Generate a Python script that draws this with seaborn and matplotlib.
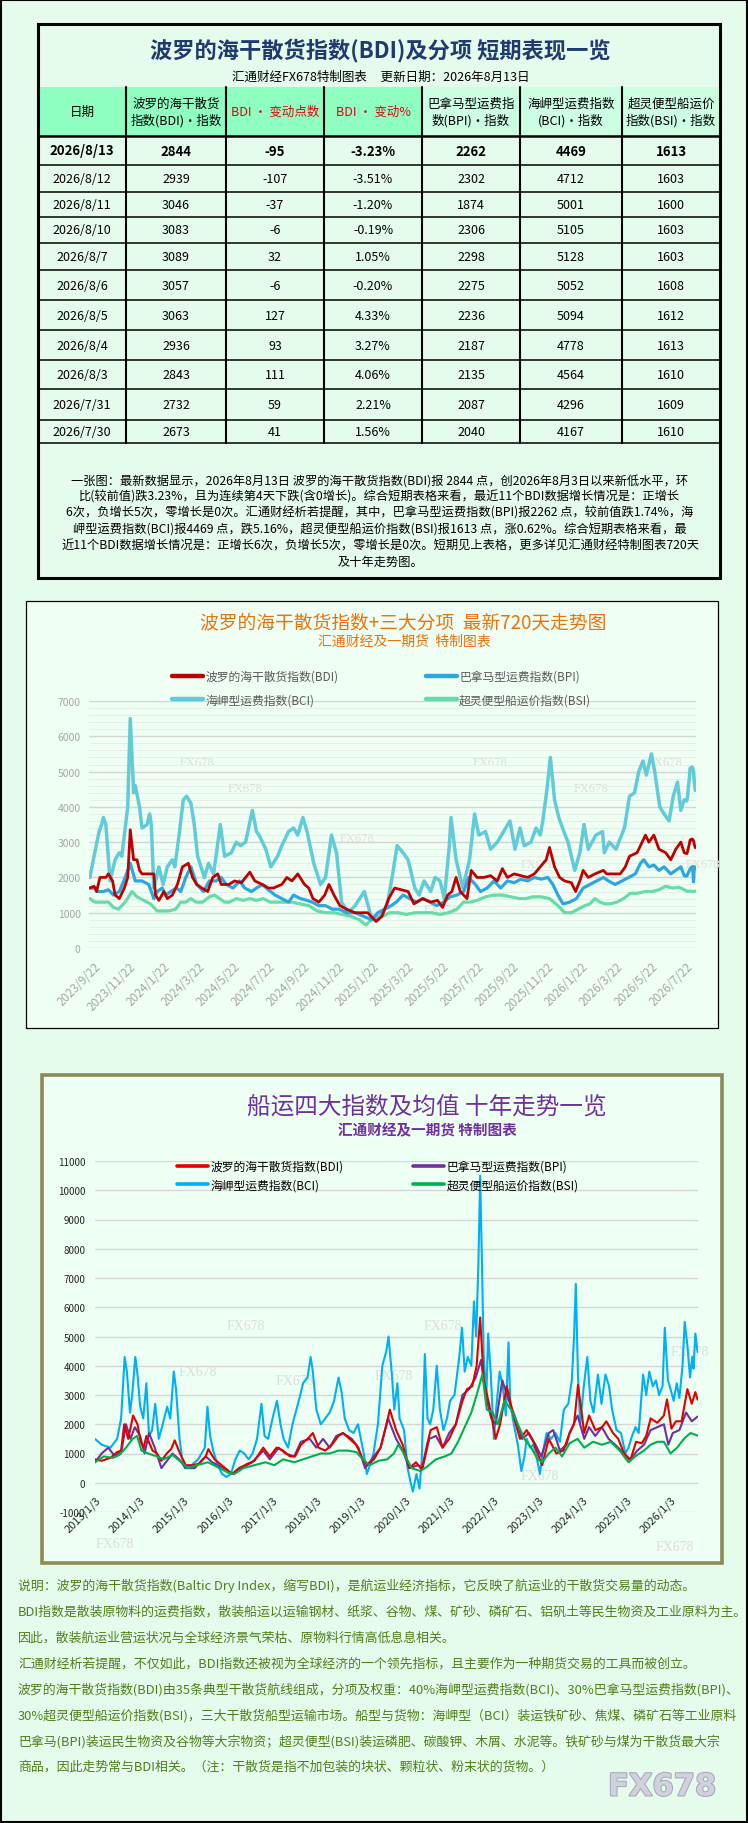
import numpy as np
import pandas as pd
import matplotlib
matplotlib.use("Agg")
import matplotlib.pyplot as plt
import seaborn as sns
from matplotlib.patches import Rectangle
from matplotlib.lines import Line2D
from matplotlib.ticker import MultipleLocator
import matplotlib.patheffects as pe

# ---------------- table data ----------------
dates = ["2026/8/13", "2026/8/12", "2026/8/11", "2026/8/10", "2026/8/7", "2026/8/6",
         "2026/8/5", "2026/8/4", "2026/8/3", "2026/7/31", "2026/7/30"]
bdi = [2844, 2939, 3046, 3083, 3089, 3057, 3063, 2936, 2843, 2732, 2673]
bdi_chg = [-95, -107, -37, -6, 32, -6, 127, 93, 111, 59, 41]
bdi_pct = ["-3.23%", "-3.51%", "-1.20%", "-0.19%", "1.05%", "-0.20%", "4.33%", "3.27%",
           "4.06%", "2.21%", "1.56%"]
bpi = [2262, 2302, 1874, 2306, 2298, 2275, 2236, 2187, 2135, 2087, 2040]
bci = [4469, 4712, 5001, 5105, 5128, 5052, 5094, 4778, 4564, 4296, 4167]
bsi = [1613, 1603, 1600, 1603, 1603, 1608, 1612, 1613, 1610, 1609, 1610]

headers = ["日期", "波罗的海干散货\n指数(BDI)·指数", "BDI · 变动点数", "BDI · 变动%",
           "巴拿马型运费指\n数(BPI)·指数", "海岬型运费指数\n(BCI)·指数", "超灵便型船运价\n指数(BSI)·指数"]

# ---------------- 720-day chart (trading-day index, value) ----------------
bdi720 = [(0,1700),(5,1750),(8,1600),(12,2000),(19,2000),(22,2100),(27,1900),(30,1500),(35,1400),
          (41,1700),(45,2000),(48,3350),(52,2500),(56,2500),(59,2200),(62,2100),(70,2100),(76,2100),
          (78,1500),(82,1350),(88,1600),(92,1400),(98,1500),(104,1800),(110,2300),(117,2400),
          (122,2000),(127,1800),(133,1700),(140,1600),(146,2000),(152,2100),(156,1800),(165,1800),
          (172,1900),(180,1850),(190,2150),(196,1900),(205,1800),(212,1700),(218,1700),(228,1800),
          (234,2000),(240,1900),(247,2100),(255,1800),(260,1700),(265,1400),(272,1300),(279,1500),
          (284,1800),(290,1500),(297,1200),(305,1100),(315,1000),(330,1000),(340,750),(347,900),
          (355,1400),(362,1700),(370,1650),(378,1600),(385,1250),(395,1400),(405,1300),(413,1350),
          (419,1150),(425,1500),(430,1600),(435,2000),(440,1600),(448,1400),(453,2200),(460,2000),
          (468,2000),(476,2050),(484,1900),(490,2250),(496,2000),(504,2100),(512,2050),(520,2000),
          (528,2100),(535,2300),(542,2500),(546,2850),(552,2300),(558,2000),(564,1900),(572,1850),
          (577,1600),(582,1900),(586,2200),(592,2000),(600,2100),(610,2200),(614,2100),(620,2100),
          (630,2100),(636,2300),(641,2600),(650,2700),(656,3000),(660,3200),(664,3000),(670,3200),
          (676,2800),(684,2700),(690,2500),(696,2800),(702,3000),(706,2700)]
bci720 = [(0,2000),(5,2600),(11,3300),(14,3500),(16,3700),(19,3500),(24,1900),(30,2500),(35,2700),
          (38,2600),(45,4000),(48,6500),(52,4400),(54,4600),(59,4000),(62,3400),(68,3500),(71,3800),
          (73,3500),(76,1700),(82,2300),(87,1800),(92,2300),(98,2500),(101,2300),(106,3200),
          (111,4200),(115,4300),(120,4100),(124,3500),(128,2600),(136,2000),(141,2400),(147,2100),
          (155,3500),(160,2600),(168,2700),(174,3000),(179,2900),(185,3000),(193,3900),(198,3300),
          (201,3200),(209,2800),(215,2300),(223,2600),(228,2900),(236,3300),(242,3400),(247,3200),
          (253,3700),(258,3300),(266,2400),(274,1800),(280,2000),(287,3200),(293,2700),(299,1300),
          (307,1000),(315,1200),(326,1600),(334,900),(342,800),(353,1200),(359,2000),(365,2900),
          (372,2700),(378,2500),(386,1700),(391,1500),(397,1900),(405,1600),(410,2000),(416,1900),
          (421,1400),(427,2900),(429,3700),(435,2500),(443,1700),(451,2500),(457,3800),(462,3200),
          (470,3300),(476,2800),(484,3000),(489,3200),(499,3600),(505,2800),(511,3400),(516,2900),
          (524,3000),(530,3400),(535,3200),(538,3600),(543,4500),(547,5400),(552,4200),(557,3700),
          (563,3300),(568,3000),(576,2200),(582,2700),(587,3500),(592,2800),(601,3200),(609,3300),
          (611,2700),(617,3000),(625,2800),(630,3100),(635,3400),(641,4300),(647,4400),(652,5000),
          (657,5300),(661,4900),(667,5500),(671,5000),(677,4000),(682,3800),(688,3600),(693,4300),
          (698,4700),(702,3900),(706,4200)]
bpi720 = [(0,1700),(6,1700),(10,1600),(16,1600),(22,1650),(28,1500),(35,1600),(42,2000),(48,2400),
          (54,1900),(62,1900),(70,1800),(76,1400),(80,1600),(86,1700),(90,1500),(96,1600),(103,1700),
          (108,1600),(114,2000),(120,2300),(127,1800),(135,1600),(142,1900),(150,1900),(156,2000),
          (162,1800),(170,1700),(178,1900),(184,1700),(192,1600),(198,1700),(205,1800),(212,1650),
          (220,1500),(228,1400),(236,1300),(242,1500),(250,1400),(258,1350),(264,1300),(272,1200),
          (280,1200),(288,1100),(296,1100),(305,1000),(315,1000),(325,900),(335,800),(342,1000),
          (350,1100),(358,1200),(364,1300),(372,1500),(380,1400),(388,1300),(396,1400),(404,1300),
          (412,1200),(420,1300),(428,1450),(436,1500),(444,1600),(450,2000),(458,1800),(464,1600),
          (472,1700),(480,1900),(488,1700),(496,1900),(504,1850),(512,1950),(520,1900),(528,2000),
          (536,1950),(544,2000),(550,1800),(556,1500),(562,1250),(570,1300),(578,1400),(586,1700),
          (594,1800),(602,1900),(610,2000),(616,1900),(624,1800),(632,1900),(640,2000),(648,2100),
          (654,2400),(658,2500),(664,2300),(670,2350),(676,2200),(682,2300),(690,2100),(696,2200),
          (702,2300),(706,2050)]
bsi720 = [(0,1400),(6,1300),(14,1300),(22,1300),(28,1150),(34,1100),(42,1300),(50,1600),(56,1450),
          (64,1350),(72,1250),(80,1050),(86,1050),(94,1050),(102,1100),(108,1300),(114,1300),
          (120,1400),(126,1300),(134,1300),(142,1450),(148,1500),(154,1400),(160,1300),(166,1300),
          (174,1400),(182,1350),(190,1400),(198,1350),(206,1400),(214,1300),(222,1300),(230,1300),
          (240,1300),(250,1250),(260,1200),(270,1050),(280,1000),(290,1000),(300,950),(310,900),
          (320,800),(328,650),(334,800),(340,900),(348,900),(356,1000),(366,1000),(376,950),
          (386,1000),(396,1000),(406,1000),(416,950),(426,1000),(436,1100),(444,1300),(452,1300),
          (460,1350),(470,1450),(480,1500),(490,1500),(500,1450),(510,1400),(518,1400),(526,1450),
          (536,1450),(546,1400),(556,1200),(564,1000),(572,1000),(580,1100),(588,1200),(594,1250),
          (600,1400),(606,1300),(612,1250),(618,1250),(626,1300),(634,1400),(642,1550),(650,1550),
          (660,1600),(668,1600),(676,1650),(684,1750),(692,1700),(700,1720),(706,1650)]
x720_labels = ["2023/9/22", "2023/11/22", "2024/1/22", "2024/3/22", "2024/5/22", "2024/7/22",
               "2024/9/22", "2024/11/22", "2025/1/22", "2025/3/22", "2025/5/22", "2025/7/22",
               "2025/9/22", "2025/11/22", "2026/1/22", "2026/3/22", "2026/5/22", "2026/7/22"]

# ---------------- ten-year chart (decimal year, value) ----------------
bci10 = [(2013.00,1500),(2013.15,1300),(2013.35,1200),(2013.50,1500),(2013.59,2200),(2013.67,4300),
         (2013.72,3800),(2013.79,2400),(2013.84,3000),(2013.91,4300),(2013.96,3700),(2014.02,2600),
         (2014.09,2200),(2014.16,3400),(2014.22,1600),(2014.29,1800),(2014.36,2700),(2014.44,1500),
         (2014.53,2000),(2014.63,2600),(2014.70,2200),(2014.78,3800),(2014.83,3200),(2014.91,1500),
         (2014.98,700),(2015.03,500),(2015.18,600),(2015.33,800),(2015.48,1200),(2015.54,2600),
         (2015.60,1600),(2015.67,1100),(2015.77,600),(2015.87,300),(2015.97,200),(2016.07,300),
         (2016.17,800),(2016.27,1100),(2016.37,1000),(2016.47,800),(2016.56,1000),(2016.66,1500),
         (2016.76,2700),(2016.83,1600),(2016.91,1500),(2017.01,2200),(2017.11,2800),(2017.19,2000),
         (2017.26,1500),(2017.36,1200),(2017.46,2000),(2017.55,2500),(2017.62,2900),(2017.70,3400),
         (2017.80,3600),(2017.87,4300),(2017.92,3800),(2018.00,2500),(2018.10,2000),(2018.20,2200),
         (2018.30,2400),(2018.40,2800),(2018.50,3600),(2018.57,3100),(2018.64,2200),(2018.74,1800),
         (2018.84,1700),(2018.94,2000),(2019.07,1000),(2019.14,300),(2019.21,600),(2019.29,1000),
         (2019.39,2000),(2019.49,4000),(2019.58,4500),(2019.63,5000),(2019.70,3800),(2019.76,2500),
         (2019.83,3400),(2019.88,2200),(2019.98,1800),(2020.06,500),(2020.13,0),(2020.18,-300),
         (2020.26,300),(2020.33,-200),(2020.38,800),(2020.45,4400),(2020.51,2200),(2020.57,2000),
         (2020.64,2500),(2020.72,4000),(2020.79,2500),(2020.87,1800),(2020.95,2200),(2021.02,2800),
         (2021.12,3000),(2021.22,4200),(2021.29,5300),(2021.35,3800),(2021.42,4300),(2021.50,4000),
         (2021.56,6200),(2021.61,5000),(2021.66,7500),(2021.70,10500),(2021.74,7500),(2021.78,4300),
         (2021.84,3000),(2021.88,5100),(2021.94,3700),(2022.01,1500),(2022.06,2500),(2022.14,3800),
         (2022.21,3300),(2022.28,2300),(2022.34,4800),(2022.38,2700),(2022.46,2000),(2022.55,1300),
         (2022.63,400),(2022.70,900),(2022.75,1500),(2022.83,1200),(2022.90,1300),(2022.97,900),
         (2023.05,300),(2023.10,900),(2023.20,1700),(2023.30,1500),(2023.40,1700),(2023.50,1400),
         (2023.59,2500),(2023.69,2700),(2023.77,3500),(2023.82,5000),(2023.86,6800),(2023.91,3600),
         (2023.96,2000),(2024.04,3300),(2024.12,4300),(2024.19,2800),(2024.26,2400),(2024.36,3700),
         (2024.44,2700),(2024.53,3700),(2024.61,3300),(2024.68,2500),(2024.78,1800),(2024.88,1700),
         (2024.98,1000),(2025.05,1200),(2025.13,1600),(2025.21,1900),(2025.28,1700),(2025.38,3700),
         (2025.45,3000),(2025.52,3800),(2025.60,3300),(2025.67,3500),(2025.74,3000),(2025.82,3300),
         (2025.87,5300),(2025.94,3500),(2026.00,3200),(2026.07,2800),(2026.14,3400),(2026.20,2900),
         (2026.27,4000),(2026.32,5500),(2026.38,4700),(2026.44,3600),(2026.49,4300),(2026.52,3900),
         (2026.56,5100),(2026.61,4469)]
bdi10 = [(2013.00,800),(2013.15,750),(2013.35,850),(2013.50,1050),(2013.59,1100),(2013.66,2000),
         (2013.75,1500),(2013.86,2300),(2013.96,2000),(2014.03,1400),(2014.10,1200),(2014.16,1600),
         (2014.30,1100),(2014.40,1000),(2014.50,750),(2014.62,1000),(2014.72,1150),(2014.80,1450),
         (2014.92,1000),(2015.05,600),(2015.20,600),(2015.35,650),(2015.50,900),(2015.56,1150),
         (2015.70,800),(2015.90,550),(2016.10,300),(2016.25,500),(2016.45,650),(2016.60,750),
         (2016.80,1200),(2016.95,900),(2017.10,1200),(2017.25,1100),(2017.40,900),(2017.52,900),
         (2017.65,1300),(2017.80,1500),(2017.92,1700),(2018.05,1200),(2018.20,1100),(2018.35,1300),
         (2018.50,1600),(2018.60,1700),(2018.75,1500),(2018.90,1300),(2019.05,800),(2019.15,600),
         (2019.30,800),(2019.45,1200),(2019.55,1800),(2019.66,2500),(2019.80,1800),(2019.95,1300),
         (2020.10,500),(2020.25,700),(2020.38,450),(2020.50,1300),(2020.58,1800),(2020.72,1900),
         (2020.85,1200),(2021.00,1500),(2021.15,2000),(2021.30,2800),(2021.40,3200),(2021.52,3300),
         (2021.62,4000),(2021.70,5650),(2021.78,3500),(2021.90,2700),(2022.05,1500),(2022.15,2000),
         (2022.30,3300),(2022.45,2300),(2022.60,1500),(2022.75,1800),(2022.90,1400),(2023.10,600),
         (2023.25,1500),(2023.42,1000),(2023.58,1100),(2023.72,1700),(2023.82,2000),(2023.91,3350),
         (2024.05,1700),(2024.16,2300),(2024.30,1800),(2024.45,1900),(2024.55,2100),(2024.70,1700),
         (2024.82,1500),(2024.95,1000),(2025.09,750),(2025.22,1400),(2025.35,1350),(2025.45,1600),
         (2025.55,2200),(2025.70,2050),(2025.85,2300),(2025.92,2850),(2026.02,1850),(2026.12,2100),
         (2026.25,2100),(2026.38,3200),(2026.48,2700),(2026.56,3100),(2026.61,2844)]
bpi10 = [(2013.00,700),(2013.15,1000),(2013.30,1200),(2013.45,900),(2013.60,1100),(2013.70,2000),
         (2013.80,1500),(2013.90,1900),(2014.02,1600),(2014.12,1000),(2014.22,1700),(2014.35,1200),
         (2014.50,500),(2014.60,700),(2014.75,1000),(2014.90,800),(2015.05,500),(2015.25,500),
         (2015.50,900),(2015.65,700),(2015.90,500),(2016.10,300),(2016.30,500),(2016.55,700),
         (2016.80,1100),(2016.95,800),(2017.15,1200),(2017.30,1000),(2017.50,900),(2017.65,1400),
         (2017.85,1500),(2018.00,1200),(2018.15,1500),(2018.30,1200),(2018.45,1600),(2018.60,1700),
         (2018.80,1500),(2018.95,1200),(2019.10,500),(2019.25,800),(2019.45,1200),(2019.62,2200),
         (2019.80,1500),(2019.95,1100),(2020.10,500),(2020.30,600),(2020.40,500),(2020.55,1500),
         (2020.70,1600),(2020.85,1200),(2021.00,1700),(2021.15,2000),(2021.30,3000),(2021.45,3200),
         (2021.60,3600),(2021.72,4200),(2021.82,3000),(2021.95,2200),(2022.05,2000),(2022.20,3500),
         (2022.35,2800),(2022.50,2200),(2022.65,1500),(2022.80,1700),(2022.95,1300),(2023.08,900),
         (2023.25,1700),(2023.35,1800),(2023.50,1100),(2023.65,1300),(2023.72,1700),(2023.90,2300),
         (2024.05,1500),(2024.16,1900),(2024.30,1600),(2024.45,1900),(2024.60,1500),(2024.75,1300),
         (2024.95,1000),(2025.09,800),(2025.25,1100),(2025.40,1300),(2025.55,1800),(2025.70,1900),
         (2025.85,2000),(2025.95,1300),(2026.05,1700),(2026.20,1800),(2026.35,2400),(2026.48,2100),
         (2026.61,2262)]
bsi10 = [(2013.00,700),(2013.20,900),(2013.40,850),(2013.55,950),(2013.70,1200),(2013.85,1500),
         (2013.95,1600),(2014.05,1100),(2014.20,1000),(2014.40,900),(2014.55,800),(2014.75,950),
         (2014.95,700),(2015.10,500),(2015.30,600),(2015.55,700),(2015.75,550),(2016.00,350),
         (2016.15,300),(2016.35,500),(2016.60,600),(2016.85,700),(2017.05,600),(2017.25,800),
         (2017.50,700),(2017.70,800),(2017.90,900),(2018.10,1000),(2018.30,1000),(2018.50,1100),
         (2018.70,1100),(2018.90,1050),(2019.05,800),(2019.20,600),(2019.40,750),(2019.60,800),
         (2019.75,1000),(2019.85,1300),(2019.98,1000),(2020.15,500),(2020.35,400),(2020.50,550),
         (2020.70,800),(2020.90,900),(2021.05,1000),(2021.20,1400),(2021.35,1900),(2021.50,2400),
         (2021.62,3000),(2021.75,3700),(2021.85,2500),(2021.98,2400),(2022.10,2000),(2022.25,2800),
         (2022.40,2500),(2022.55,2000),(2022.70,1500),(2022.85,1200),(2023.00,800),(2023.10,700),
         (2023.25,1000),(2023.40,1200),(2023.55,900),(2023.72,1350),(2023.90,1500),(2024.05,1200),
         (2024.25,1400),(2024.45,1300),(2024.65,1400),(2024.85,1100),(2025.05,700),(2025.20,900),
         (2025.40,1100),(2025.55,1300),(2025.70,1400),(2025.85,1400),(2026.00,1000),(2026.15,1200),
         (2026.30,1500),(2026.45,1700),(2026.61,1613)]
years10 = list(range(2013, 2027))

# ---------------- texts ----------------
lab_bdi = "波罗的海干散货指数(BDI)"
lab_bpi = "巴拿马型运费指数(BPI)"
lab_bci = "海岬型运费指数(BCI)"
lab_bsi = "超灵便型船运价指数(BSI)"
para = [
    f"一张图：最新数据显示，2026年8月13日 波罗的海干散货指数(BDI)报 {bdi[0]} 点，创2026年8月3日以来新低水平，环",
    f"比(较前值)跌3.23%，且为连续第4天下跌(含0增长)。综合短期表格来看，最近11个BDI数据增长情况是：正增长",
    f"6次，负增长5次，零增长是0次。汇通财经析若提醒，其中，巴拿马型运费指数(BPI)报{bpi[0]} 点，较前值跌1.74%，海",
    f"岬型运费指数(BCI)报{bci[0]} 点，跌5.16%，超灵便型船运价指数(BSI)报{bsi[0]} 点，涨0.62%。综合短期表格来看，最",
    "近11个BDI数据增长情况是：正增长6次，负增长5次，零增长是0次。短期见上表格，更多详见汇通财经特制图表720天",
    "及十年走势图。",
]
notes = [
    "说明：波罗的海干散货指数(Baltic Dry Index，缩写BDI)，是航运业经济指标，它反映了航运业的干散货交易量的动态。",
    "BDI指数是散装原物料的运费指数，散装船运以运输钢材、纸浆、谷物、煤、矿砂、磷矿石、铝矾土等民生物资及工业原料为主。",
    "因此，散装航运业营运状况与全球经济景气荣枯、原物料行情高低息息相关。",
    "汇通财经析若提醒，不仅如此，BDI指数还被视为全球经济的一个领先指标，且主要作为一种期货交易的工具而被创立。",
    "波罗的海干散货指数(BDI)由35条典型干散货航线组成，分项及权重：40%海岬型运费指数(BCI)、30%巴拿马型运费指数(BPI)、",
    "30%超灵便型船运价指数(BSI)，三大干散货船型运输市场。船型与货物：海岬型（BCI）装运铁矿砂、焦煤、磷矿石等工业原料",
    "巴拿马(BPI)装运民生物资及谷物等大宗物资；超灵便型(BSI)装运磷肥、碳酸钾、木屑、水泥等。铁矿砂与煤为干散货最大宗",
    "商品，因此走势常与BDI相关。（注：干散货是指不加包装的块状、颗粒状、粉末状的货物。）",
]

# ---------------- style ----------------
sns.set_style("white")
plt.rcParams["font.family"] = ["Noto Sans CJK SC", "DejaVu Sans"]
plt.rcParams["axes.unicode_minus"] = False

W, H = 748, 1824
fig = plt.figure(figsize=(W / 100, H / 100), dpi=100)
BG = "#e5fcec"
fig.patch.set_facecolor(BG)
bg = fig.add_axes([0, 0, 1, 1])
bg.set_xlim(0, W)
bg.set_ylim(H, 0)
bg.axis("off")


def rect(x0, y0, x1, y1, **kw):
    bg.add_patch(Rectangle((x0, y0), x1 - x0, y1 - y0, **kw))


def fig_rect(x0, y0, x1, y1):
    return [x0 / W, 1 - y1 / H, (x1 - x0) / W, (y1 - y0) / H]


rect(0.5, 0.5, W - 0.5, H - 0.5, fill=False, ec="black", lw=1.5)

# ---------------- table ----------------
cols = [38, 126, 226, 324, 422, 520, 622, 720]
rows = [88, 137, 166, 193, 218, 244, 271, 301, 331, 361, 390, 421, 444]
hdr_fill = ["#8effc1"] * 4 + ["#ccffe2"] * 3
for i in range(7):
    rect(cols[i], rows[0], cols[i + 1], rows[1], fc=hdr_fill[i], ec="none")
for k, y in enumerate(rows[1:]):
    bg.plot([cols[0], cols[-1]], [y, y], color="black", lw=1.8 if k == 0 else 1.1)
for x in cols[1:-1]:
    bg.plot([x, x], [rows[0], rows[-1]], color="black", lw=1.5)
rect(38, 25, 720, 579, fill=False, ec="black", lw=2.2)

bg.text(380, 50, "波罗的海干散货指数(BDI)及分项 短期表现一览", ha="center", va="center",
        fontsize=16, fontweight="bold", color="#1f3a6e")
bg.text(381, 77, "汇通财经FX678特制图表     更新日期：2026年8月13日", ha="center", va="center",
        fontsize=9, color="black")
for i, h in enumerate(headers):
    bg.text((cols[i] + cols[i + 1]) / 2, (rows[0] + rows[1]) / 2, h, ha="center", va="center",
            fontsize=9, color="#e8000b" if i in (2, 3) else "black", linespacing=1.25)
for r in range(len(dates)):
    yc = (rows[r + 1] + rows[r + 2]) / 2
    vals = [dates[r], bdi[r], bdi_chg[r], bdi_pct[r], bpi[r], bci[r], bsi[r]]
    for i, v in enumerate(vals):
        bg.text((cols[i] + cols[i + 1]) / 2, yc, str(v), ha="center", va="center",
                fontsize=9.5 if r == 0 else 9, fontweight="bold" if r == 0 else "normal",
                color="black")
for k, line in enumerate(para):
    bg.text(380, 481 + k * 16.2, line, ha="center", va="center", fontsize=8.8, color="black")

# ---------------- chart 2: 720 days ----------------
rect(26, 602, 718, 1029, fc="#effff4", ec="black", lw=0.9)
bg.text(403, 623, "波罗的海干散货指数+三大分项  最新720天走势图", ha="center", va="center",
        fontsize=13.5, color="#e9730c")
bg.text(404, 642, "汇通财经及一期货  特制图表", ha="center", va="center", fontsize=10,
        color="#e9730c")
for (wx, wy) in [(197, 763), (245, 789), (357, 839), (490, 763), (591, 789), (665, 763),
                 (538, 865), (703, 865), (441, 910)]:
    bg.text(wx, wy, "FX678", ha="center", va="center", fontsize=9, color="#dcdcdc",
            family=["Liberation Serif"])

ax2 = fig.add_axes(fig_rect(89, 702, 696, 949))
ax2.set_facecolor("none")
tail_days = list(range(720 - len(dates), 720))
c2 = {"bdi": "#c00000", "bpi": "#2ea7e0", "bci": "#62cbd8", "bsi": "#68dba8"}


def pairs_df(pairs, tail=None):
    t = [p[0] for p in pairs]
    v = [p[1] for p in pairs]
    if tail is not None:
        t += tail_days
        v += list(reversed(tail))
    return pd.DataFrame({"t": t, "v": v})


for key, pairs, tail, lw, z in [("bci", bci720, bci, 2.5, 2), ("bsi", bsi720, bsi, 2.3, 3),
                                ("bpi", bpi720, bpi, 2.3, 4), ("bdi", bdi720, bdi, 2.0, 5)]:
    d = pairs_df(pairs, tail)
    sns.lineplot(data=d, x="t", y="v", ax=ax2, color=c2[key], linewidth=lw, zorder=z,
                 legend=False, estimator=None, sort=False)
ax2.set_xlim(-1, 720)
ax2.set_ylim(0, 7000)
ax2.yaxis.set_major_locator(MultipleLocator(1000))
ax2.yaxis.set_minor_locator(MultipleLocator(200))
ax2.grid(which="major", axis="y", color="#d4d4d4", lw=1.0)
ax2.grid(which="minor", axis="y", color="#e6eee8", lw=0.7)
ax2.grid(axis="x", visible=False)
ax2.set_axisbelow(True)
for s in ax2.spines.values():
    s.set_visible(False)
ax2.set_xlabel("")
ax2.set_ylabel("")
ax2.set_xticks(np.linspace(5, 708, len(x720_labels)))
ax2.set_xticklabels(x720_labels, rotation=45, ha="right", va="top", rotation_mode="anchor")
ax2.tick_params(axis="y", which="both", length=0, labelsize=7.5, labelcolor="#a6a6a6", pad=6)
ax2.tick_params(axis="x", length=0, labelsize=8.5, labelcolor="#a6a6a6", pad=8)

h2 = {k: Line2D([], [], color=c2[k], lw=3.2) for k in c2}
fig.legend([h2["bdi"], h2["bci"]], [lab_bdi, lab_bci], loc="upper left",
           bbox_to_anchor=(172 / W, 1 - 671 / H), frameon=False, fontsize=8.5,
           handlelength=2.6, handletextpad=0.2, labelspacing=0.85, borderpad=0,
           borderaxespad=0, labelcolor="#595959")
fig.legend([h2["bpi"], h2["bsi"]], [lab_bpi, lab_bsi], loc="upper left",
           bbox_to_anchor=(426 / W, 1 - 671 / H), frameon=False, fontsize=8.5,
           handlelength=2.6, handletextpad=0.2, labelspacing=0.85, borderpad=0,
           borderaxespad=0, labelcolor="#595959")

# ---------------- chart 3: ten years ----------------
rect(42, 1076, 722, 1564, fc="#eefff3", ec="#8d8a56", lw=2.6)
bg.text(427, 1107, "船运四大指数及均值 十年走势一览", ha="center", va="center", fontsize=17,
        color="#7030a0")
bg.text(427, 1130, "汇通财经及一期货 特制图表", ha="center", va="center", fontsize=10.5,
        fontweight="bold", color="#7030a0")
for (wx, wy) in [(246, 1327), (443, 1327), (198, 1373), (295, 1382), (394, 1377),
                 (540, 1477), (690, 1353), (115, 1545), (675, 1548)]:
    bg.text(wx, wy, "FX678", ha="center", va="center", fontsize=10, color="#dcdcdc",
            family=["Liberation Serif"])

ax3 = fig.add_axes(fig_rect(95, 1162, 698, 1513))
ax3.set_facecolor("none")
c3 = {"bdi": "#e00000", "bpi": "#7030a0", "bci": "#00b0f0", "bsi": "#00b050"}
for key, pairs, lw, z in [("bci", bci10, 1.5, 2), ("bpi", bpi10, 1.5, 3), ("bdi", bdi10, 1.5, 4),
                          ("bsi", bsi10, 1.5, 5)]:
    d = pairs_df(pairs)
    sns.lineplot(data=d, x="t", y="v", ax=ax3, color=c3[key], linewidth=lw, zorder=z,
                 legend=False, estimator=None, sort=False)
ax3.set_xlim(2013.0, 2026.62)
ax3.set_ylim(-1000, 11000)
ax3.yaxis.set_major_locator(MultipleLocator(1000))
ax3.grid(which="major", axis="y", color="#d6d6d6", lw=0.9)
ax3.grid(axis="x", visible=False)
ax3.set_axisbelow(True)
for s in ax3.spines.values():
    s.set_color("none")
ax3.spines["bottom"].set_position(("data", 0))
ax3.set_xlabel("")
ax3.set_ylabel("")
ax3.set_xticks([y + 2 / 365 for y in years10])
ax3.set_xticklabels([f"{y}/1/3" for y in years10], rotation=45, ha="right", va="top",
                    rotation_mode="anchor")
ax3.tick_params(axis="y", length=0, labelsize=7, labelcolor="#262626", pad=7)
ax3.tick_params(axis="x", length=0, labelsize=8, labelcolor="#262626", pad=8)

h3 = {k: Line2D([], [], color=c3[k], lw=2.6) for k in c3}
fig.legend([h3["bdi"], h3["bci"]], [lab_bdi, lab_bci], loc="upper left",
           bbox_to_anchor=(177 / W, 1 - 1161 / H), frameon=False, fontsize=8.5,
           handlelength=2.6, handletextpad=0.25, labelspacing=0.45, borderpad=0,
           borderaxespad=0, labelcolor="black")
fig.legend([h3["bpi"], h3["bsi"]], [lab_bpi, lab_bsi], loc="upper left",
           bbox_to_anchor=(413 / W, 1 - 1161 / H), frameon=False, fontsize=8.5,
           handlelength=2.6, handletextpad=0.25, labelspacing=0.45, borderpad=0,
           borderaxespad=0, labelcolor="black")

# ---------------- notes ----------------
for k, line in enumerate(notes):
    bg.text(18, 1586 + k * 25.9, line, ha="left", va="center", fontsize=9.3, color="#4d8019")
bg.text(662, 1788, "FX678", ha="center", va="center", fontsize=22, fontweight="bold",
        color="#d0d1dd", family=["DejaVu Sans"],
        path_effects=[pe.withStroke(linewidth=1.5, foreground="#a7a8ba")])

fig.savefig("out.png", dpi=100, facecolor=fig.get_facecolor())
